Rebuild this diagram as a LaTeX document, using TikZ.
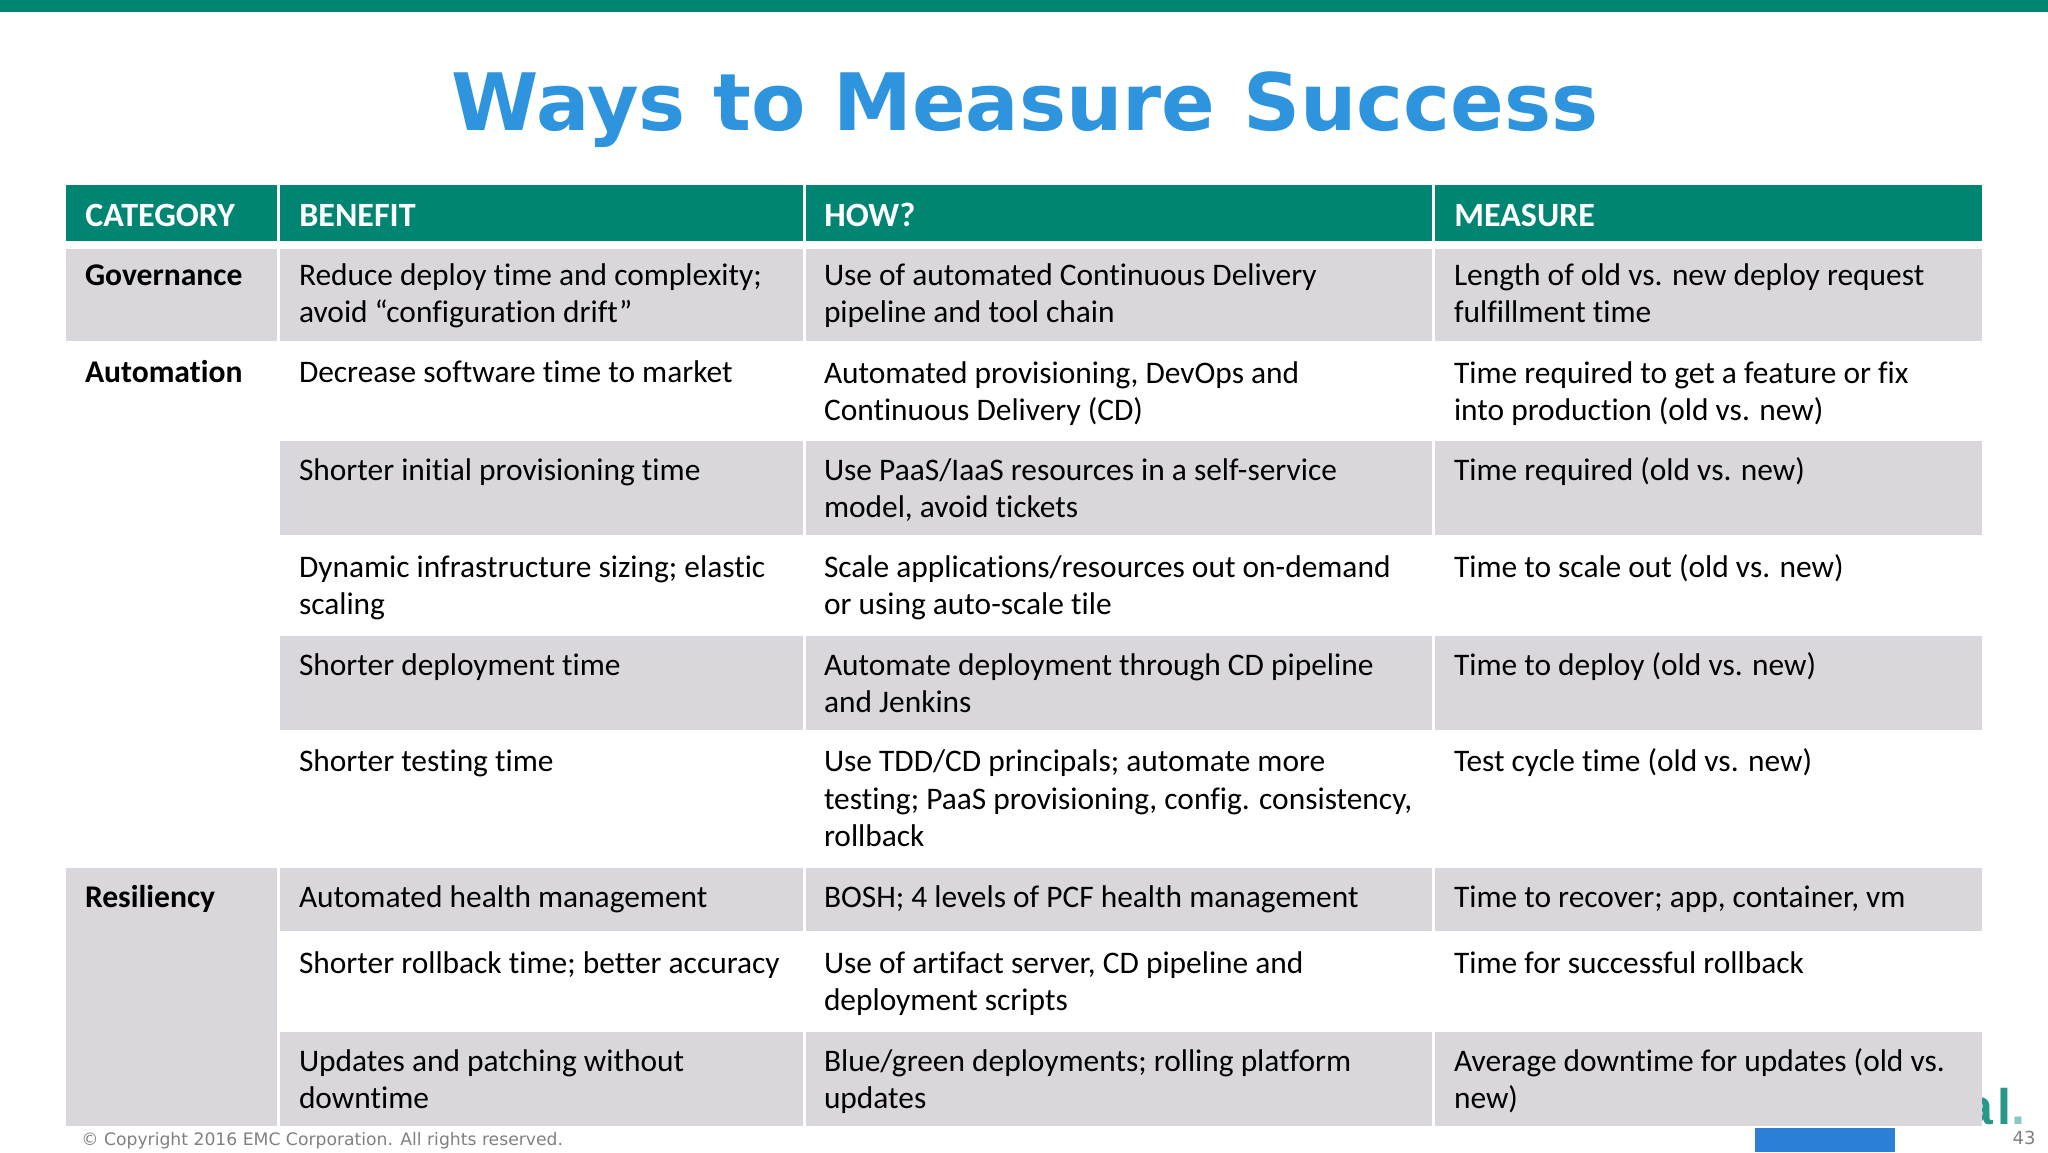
\documentclass[tikz,border=0pt]{standalone}
\usepackage{fontspec}
\setmainfont{Carlito}[Ligatures=CommonOff]
\newfontfamily\verdanafont{DejaVu Sans}
\newfontfamily\logofont{Liberation Sans}
\definecolor{headteal}{HTML}{008573}
\definecolor{cellgray}{HTML}{D9D7DB}
\definecolor{titleblue}{HTML}{2E94DE}
\definecolor{footgray}{HTML}{808080}
\definecolor{footblue}{HTML}{2B7FD6}
\tikzset{
	cell/.style={anchor=base west,inner sep=0pt,outer sep=0pt,align=left,font=\fontsize{15.7}{18.8}\selectfont},
	headcell/.style={anchor=base west,inner sep=0pt,font=\fontsize{17}{18}\selectfont\bfseries,text=white},
	catcell/.style={cell,font=\fontsize{15.8}{18.8}\selectfont\bfseries},
}
\begin{document}
\begin{tikzpicture}[x=0.5pt,y=-0.5pt]
	\useasboundingbox (0,0) rectangle (2048,1152);
	\fill[headteal] (0,0) rectangle (2048,12);
	\node[anchor=base,inner sep=0pt,text=titleblue,font=\verdanafont\fontsize{39.6}{44}\selectfont\bfseries] (title) at (1025,130) {Ways to Measure Success};
	% logo and footer lie behind the table
	\node[anchor=base east,inner sep=0pt,text=headteal!85,font=\logofont\fontsize{25}{25}\selectfont\bfseries] (logo) at (2026,1124) {a\kern2.5pt l\textcolor{headteal!45}{.}};
	\fill[footblue] (1755,1128) rectangle (1895,1152);
	\node[anchor=base west,inner sep=0pt,text=footgray,font=\verdanafont\fontsize{8.6}{10}\selectfont] (copyright) at (81,1145) {\textcopyright{} Copyright 2016 EMC Corporation. All rights reserved.};
	\node[anchor=base east,inner sep=0pt,text=footgray,font=\verdanafont\fontsize{9}{10}\selectfont] (page) at (2036,1144) {43};
	% header
	\fill[headteal] (66,184.5) rectangle (277,241);
	\fill[headteal] (280,184.5) rectangle (803,241);
	\fill[headteal] (806,184.5) rectangle (1432,241);
	\fill[headteal] (1435,184.5) rectangle (1982,241);
	% gray rows
	\fill[cellgray] (66,249) rectangle (277,341);
	\fill[cellgray] (280,249) rectangle (803,341);
	\fill[cellgray] (806,249) rectangle (1432,341);
	\fill[cellgray] (1435,249) rectangle (1982,341);
	\fill[cellgray] (280,441) rectangle (803,535);
	\fill[cellgray] (806,441) rectangle (1432,535);
	\fill[cellgray] (1435,441) rectangle (1982,535);
	\fill[cellgray] (280,636) rectangle (803,730);
	\fill[cellgray] (806,636) rectangle (1432,730);
	\fill[cellgray] (1435,636) rectangle (1982,730);
	\fill[cellgray] (66,868) rectangle (277,1126);
	\fill[cellgray] (280,868) rectangle (803,931);
	\fill[cellgray] (806,868) rectangle (1432,931);
	\fill[cellgray] (1435,868) rectangle (1982,931);
	\fill[cellgray] (280,1032) rectangle (803,1126);
	\fill[cellgray] (806,1032) rectangle (1432,1126);
	\fill[cellgray] (1435,1032) rectangle (1982,1126);
	% header text
	\node[headcell] (h1) at (85,226) {CATEGORY};
	\node[headcell] (h2) at (299,226) {BENEFIT};
	\node[headcell] (h3) at (824,226) {HOW?};
	\node[headcell] (h4) at (1454,226) {MEASURE};
	% categories
	\node[catcell] (c1) at (85,285) {Governance};
	\node[catcell] (c2) at (85,382.5) {Automation};
	\node[catcell] (c7) at (85,907) {Resiliency};
	% benefit (y is the baseline of the last line)
	\node[cell] (b1) at (299,322.6) {Reduce deploy time and complexity;\\avoid “configuration drift”};
	\node[cell] (b2) at (299,382.5) {Decrease software time to market};
	\node[cell] (b3) at (299,480) {Shorter initial provisioning time};
	\node[cell] (b4) at (299,614.6) {Dynamic infrastructure sizing; elastic\\scaling};
	\node[cell] (b5) at (299,675) {Shorter deployment time};
	\node[cell] (b6) at (299,771) {Shorter testing time};
	\node[cell] (b7) at (299,907) {Automated health management};
	\node[cell] (b8) at (299,973) {Shorter rollback time; better accuracy};
	\node[cell] (b9) at (299,1108.6) {Updates and patching without\\downtime};
	% how
	\node[cell] (w1) at (824,322.6) {Use of automated Continuous Delivery\\pipeline and tool chain};
	\node[cell] (w2) at (824,420.6) {Automated provisioning, DevOps and\\Continuous Delivery (CD)};
	\node[cell] (w3) at (824,517.6) {Use PaaS/IaaS resources in a self-service\\model, avoid tickets};
	\node[cell] (w4) at (824,614.6) {Scale applications/resources out on-demand\\or using auto-scale tile};
	\node[cell] (w5) at (824,712.6) {Automate deployment through CD pipeline\\and Jenkins};
	\node[cell] (w6) at (824,846.6) {Use TDD/CD principals; automate more\\testing; PaaS provisioning, config. consistency,\\rollback};
	\node[cell] (w7) at (824,907) {BOSH; 4 levels of PCF health management};
	\node[cell] (w8) at (824,1010.6) {Use of artifact server, CD pipeline and\\deployment scripts};
	\node[cell] (w9) at (824,1108.6) {Blue/green deployments; rolling platform\\updates};
	% measure
	\node[cell] (m1) at (1454,322.6) {Length of old vs. new deploy request\\fulfillment time};
	\node[cell] (m2) at (1454,420.6) {Time required to get a feature or fix\\into production (old vs. new)};
	\node[cell] (m3) at (1454,480) {Time required (old vs. new)};
	\node[cell] (m4) at (1454,577) {Time to scale out (old vs. new)};
	\node[cell] (m5) at (1454,675) {Time to deploy (old vs. new)};
	\node[cell] (m6) at (1454,771) {Test cycle time (old vs. new)};
	\node[cell] (m7) at (1454,907) {Time to recover; app, container, vm};
	\node[cell] (m8) at (1454,973) {Time for successful rollback};
	\node[cell] (m9) at (1454,1108.6) {Average downtime for updates (old vs.\\new)};
\end{tikzpicture}
\end{document}
